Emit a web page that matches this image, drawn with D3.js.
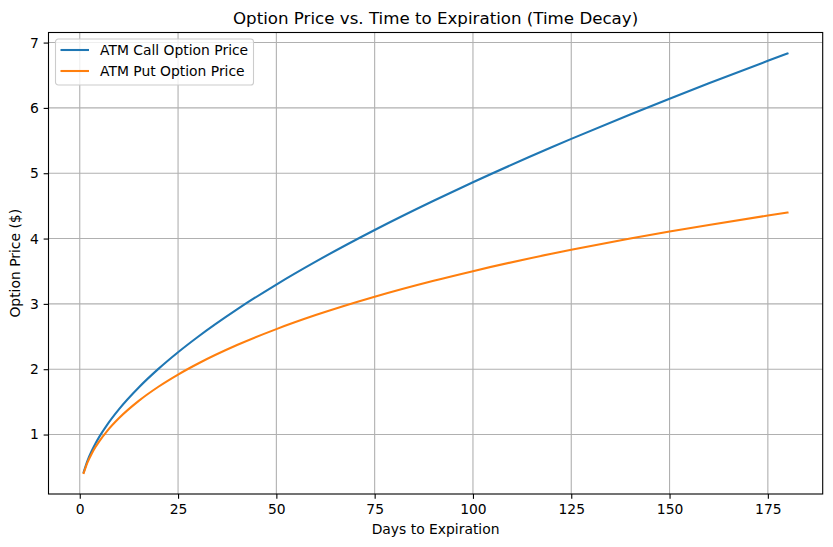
<!DOCTYPE html>
<html>
<head>
<meta charset="utf-8">
<script src="https://cdn.jsdelivr.net/npm/d3@7"></script>
<style>
  html, body { margin: 0; padding: 0; background: #fff; }
  svg { display: block; font-family: "DejaVu Sans", sans-serif; }
</style>
</head>
<body>
<svg id="chart" width="833" height="547"></svg>
<script>
// Data
const days = [1, 2, 3, 4, 5, 7, 10, 15, 20, 25, 30, 40, 50, 60, 75, 90, 100, 120, 125, 140, 150, 160, 175, 180];
const callPrices = [0.4245, 0.6043, 0.7439, 0.8627, 0.9682, 1.1530, 1.3893, 1.7204, 2.0050, 2.2598, 2.4934, 2.9159, 3.2963, 3.6466, 4.1312, 4.5790, 4.8617, 5.3968, 5.5252, 5.8996, 6.1411, 6.3768, 6.7207, 6.8331];
const putPrices = [0.4108, 0.5769, 0.7029, 0.8079, 0.8997, 1.0571, 1.2524, 1.5152, 1.7314, 1.9179, 2.0833, 2.3694, 2.6137, 2.8281, 3.1091, 3.3537, 3.5011, 3.7664, 3.8275, 4.0001, 4.1073, 4.2088, 4.3519, 4.3975];
const xTicks = [0, 25, 50, 75, 100, 125, 150, 175];
const yTicks = [1, 2, 3, 4, 5, 6, 7];
const seriesNames = ["ATM Call Option Price", "ATM Put Option Price"];
const seriesColors = ["#1f77b4", "#ff7f0e"];
const titleText = "Option Price vs. Time to Expiration (Time Decay)";
const xLabelText = "Days to Expiration";
const yLabelText = "Option Price ($)";

const W = 833, H = 547;
const margin = { left: 48.5, right: 10.3, top: 32.5, bottom: 53 };
const iw = W - margin.left - margin.right;
const ih = H - margin.top - margin.bottom;

const svg = d3.select("#chart");
const g = svg.append("g").attr("transform", `translate(${margin.left},${margin.top})`);

const xMin = d3.min(days), xMax = d3.max(days);
const xPad = (xMax - xMin) * 0.05;
const allY = callPrices.concat(putPrices);
const yMin = d3.min(allY), yMax = d3.max(allY);
const yPad = (yMax - yMin) * 0.05;

const x = d3.scaleLinear().domain([xMin - xPad, xMax + xPad]).range([0, iw]);
const y = d3.scaleLinear().domain([yMin - yPad, yMax + yPad]).range([ih, 0]);

// Grid
g.append("g").selectAll("line").data(xTicks).join("line")
  .attr("x1", d => x(d)).attr("x2", d => x(d)).attr("y1", 0).attr("y2", ih)
  .attr("stroke", "#b0b0b0").attr("stroke-width", 1.1);
g.append("g").selectAll("line").data(yTicks).join("line")
  .attr("y1", d => y(d)).attr("y2", d => y(d)).attr("x1", 0).attr("x2", iw)
  .attr("stroke", "#b0b0b0").attr("stroke-width", 1.1);

// Lines
const series = [callPrices, putPrices];
const lineGen = vals => d3.line()
  .x((d, i) => x(days[i]))
  .y(d => y(d))
  .curve(d3.curveMonotoneX)(vals);
series.forEach((vals, k) => {
  g.append("path").attr("d", lineGen(vals))
    .attr("fill", "none").attr("stroke", seriesColors[k])
    .attr("stroke-width", 2.08).attr("stroke-linecap", "square")
    .attr("stroke-linejoin", "round");
});

// Axes
const xAxis = d3.axisBottom(x).tickValues(xTicks).tickSize(4.86).tickPadding(4.86).tickFormat(d3.format("d"));
const yAxis = d3.axisLeft(y).tickValues(yTicks).tickSize(4.86).tickPadding(4.86).tickFormat(d3.format("d"));
const gx = g.append("g").attr("transform", `translate(0,${ih})`).call(xAxis);
const gy = g.append("g").call(yAxis);
[gx, gy].forEach(a => {
  a.select(".domain").remove();
  a.selectAll("line").attr("stroke", "#000").attr("stroke-width", 1.1);
  a.selectAll("text").attr("font-size", "13.89px").attr("fill", "#000")
    .attr("font-family", "DejaVu Sans, sans-serif");
});

// Spines
g.append("rect").attr("x", 0).attr("y", 0).attr("width", iw).attr("height", ih)
  .attr("fill", "none").attr("stroke", "#000").attr("stroke-width", 1.1);

// Title and labels
svg.append("text").attr("x", margin.left + iw / 2).attr("y", 24)
  .attr("text-anchor", "middle").attr("font-size", "16.67px").text(titleText);
svg.append("text").attr("x", margin.left + iw / 2).attr("y", 533.5)
  .attr("text-anchor", "middle").attr("font-size", "13.89px").text(xLabelText);
svg.append("text").attr("transform", `translate(20,${margin.top + ih / 2}) rotate(-90)`)
  .attr("text-anchor", "middle").attr("font-size", "13.89px").text(yLabelText);

// Legend
const lg = svg.append("g").attr("transform", "translate(55.5,39)");
lg.append("rect").attr("width", 198).attr("height", 46).attr("rx", 2.8)
  .attr("fill", "#fff").attr("fill-opacity", 0.8)
  .attr("stroke", "#cccccc").attr("stroke-width", 1.1);
seriesNames.forEach((name, k) => {
  const yy = 11 + k * 21;
  lg.append("line").attr("x1", 5).attr("x2", 33.5).attr("y1", yy).attr("y2", yy)
    .attr("stroke", seriesColors[k]).attr("stroke-width", 2.08);
  lg.append("text").attr("x", 44.5).attr("y", yy + 5).attr("font-size", "13.89px").text(name);
});
</script>
</body>
</html>
